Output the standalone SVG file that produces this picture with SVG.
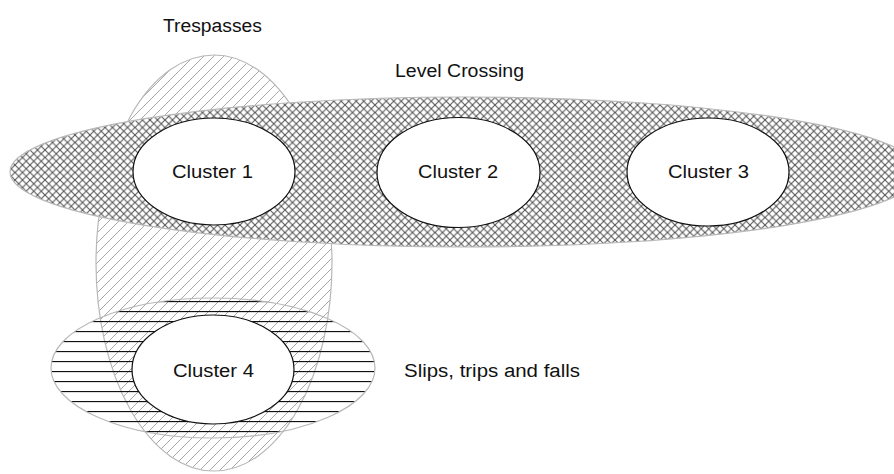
<svg xmlns="http://www.w3.org/2000/svg" width="894" height="474" viewBox="0 0 894 474">
<style>
  .lbl { font-family: "Liberation Sans", Arial, sans-serif; font-size: 18px; fill: #111; }
  .set { stroke: #b8b8b8; stroke-width: 1.2; }
  .cluster { fill: #fff; stroke: #111; stroke-width: 1.2; }
</style>
<defs>
  <pattern id="diag" patternUnits="userSpaceOnUse" width="10" height="10">
    <path d="M-2,2 L2,-2 M0,10 L10,0 M8,12 L12,8" stroke="#a8a8a8" stroke-width="1"/>
  </pattern>
  <pattern id="cross" patternUnits="userSpaceOnUse" width="7.5" height="7.5">
    <rect width="7.5" height="7.5" fill="#fff"/>
    <path d="M0,0 L7.5,7.5 M7.5,0 L0,7.5" stroke="#555" stroke-width="1.1"/>
  </pattern>
  <pattern id="horiz" patternUnits="userSpaceOnUse" width="10" height="10" y="1">
    <path d="M0,0.5 L10,0.5" stroke="#111" stroke-width="1.3"/>
  </pattern>
</defs>
<rect width="894" height="474" fill="#fff"/>
<g id="trespasses">
  <ellipse class="set" cx="214" cy="263" rx="118" ry="208" fill="url(#diag)"/>
  <text class="lbl" x="163" y="32" textLength="99" lengthAdjust="spacingAndGlyphs">Trespasses</text>
</g>
<g id="level-crossing">
  <ellipse class="set" cx="465" cy="172" rx="455" ry="75" fill="url(#cross)"/>
  <text class="lbl" x="395" y="77" textLength="129" lengthAdjust="spacingAndGlyphs">Level Crossing</text>
</g>
<g id="slips">
  <ellipse class="set" cx="213" cy="368" rx="162" ry="70" fill="url(#horiz)"/>
  <text class="lbl" x="404" y="377" textLength="176" lengthAdjust="spacingAndGlyphs">Slips, trips and falls</text>
</g>
<g id="cluster1">
  <ellipse class="cluster" cx="214" cy="171.5" rx="81" ry="53.5"/>
  <text class="lbl" x="172" y="178" textLength="81" lengthAdjust="spacingAndGlyphs">Cluster 1</text>
</g>
<g id="cluster2">
  <ellipse class="cluster" cx="458.5" cy="172.5" rx="81.5" ry="55"/>
  <text class="lbl" x="418" y="178" textLength="80" lengthAdjust="spacingAndGlyphs">Cluster 2</text>
</g>
<g id="cluster3">
  <ellipse class="cluster" cx="708" cy="172" rx="81" ry="54"/>
  <text class="lbl" x="668" y="178" textLength="81" lengthAdjust="spacingAndGlyphs">Cluster 3</text>
</g>
<g id="cluster4">
  <ellipse class="cluster" cx="213" cy="369.5" rx="81" ry="54.5"/>
  <text class="lbl" x="173" y="377" textLength="81" lengthAdjust="spacingAndGlyphs">Cluster 4</text>
</g>
<g id="connectors"></g>
</svg>
